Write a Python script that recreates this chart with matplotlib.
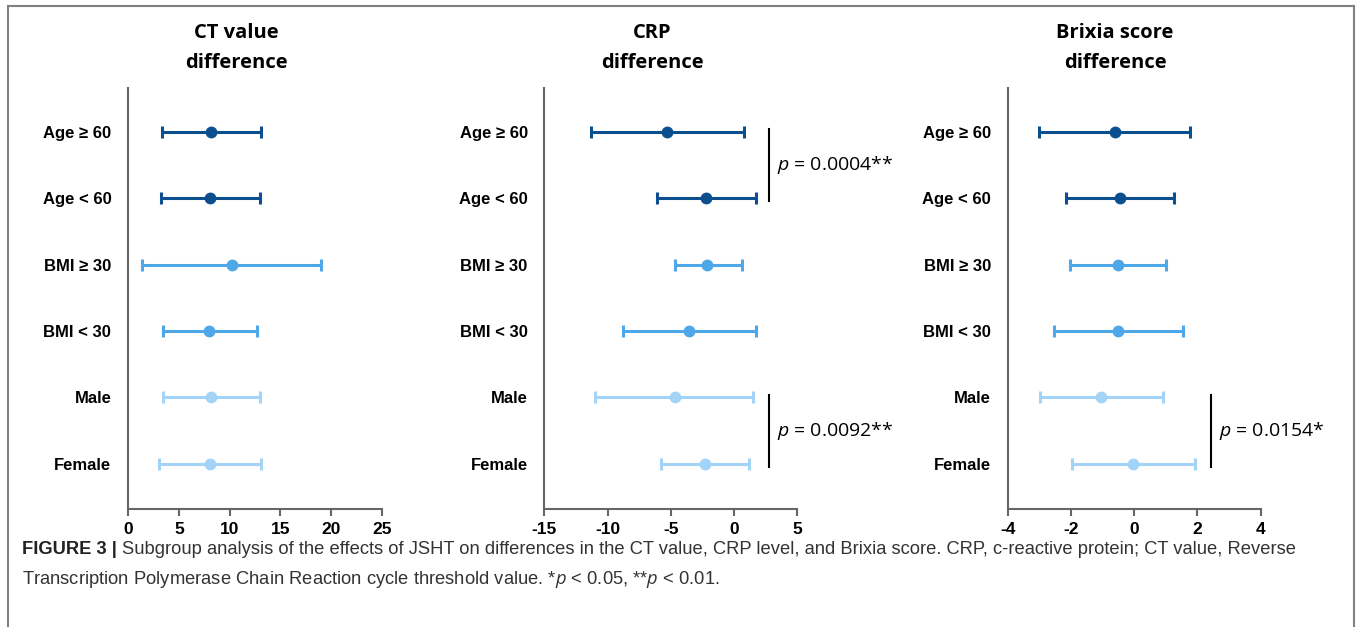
import matplotlib
matplotlib.use("Agg")
import matplotlib.pyplot as plt
from matplotlib.lines import Line2D

groups = ["Age \u2265 60", "Age < 60", "BMI \u2265 30", "BMI < 30", "Male", "Female"]

ct_mean = [8.2, 8.1, 10.2, 8.0, 8.2, 8.1]
ct_low = [3.3, 3.2, 1.35, 3.4, 3.4, 3.1]
ct_high = [13.1, 13.0, 19.0, 12.7, 13.0, 13.1]

crp_mean = [-5.3, -2.2, -2.1, -3.6, -4.7, -2.3]
crp_low = [-11.3, -6.1, -4.7, -8.8, -11.0, -5.8]
crp_high = [0.8, 1.75, 0.6, 1.7, 1.5, 1.2]

brixia_mean = [-0.61, -0.45, -0.51, -0.51, -1.05, -0.03]
brixia_low = [-3.0, -2.15, -2.02, -2.54, -2.98, -1.97]
brixia_high = [1.78, 1.27, 1.02, 1.53, 0.9, 1.93]

titles = ["CT value\ndifference", "CRP\ndifference", "Brixia score\ndifference"]
xticks = [[0, 5, 10, 15, 20, 25], [-15, -10, -5, 0, 5], [-4, -2, 0, 2, 4]]

# significance brackets: panel, first row, last row, x, label
brackets = [
    (1, 0, 1, 2.73, "0.0004**"),
    (1, 4, 5, 2.73, "0.0092**"),
    (2, 4, 5, 2.42, "0.0154*"),
]

colors = ["#0b4f8f", "#0b4f8f", "#4ea7e8", "#4ea7e8", "#a3d3f7", "#a3d3f7"]

plt.rcParams["mathtext.fontset"] = "custom"
plt.rcParams["mathtext.it"] = "Open Sans:italic"
plt.rcParams["mathtext.rm"] = "Open Sans"

W, H = 1357, 627
fig = plt.figure(figsize=(W / 100, H / 100), dpi=100)

axes_px = [(128, 382), (544.3, 797.3), (1007.7, 1260.7)]
top_px, bottom_px = 88, 509
title_x = [236, 652, 1115]

data = [
    (ct_mean, ct_low, ct_high),
    (crp_mean, crp_low, crp_high),
    (brixia_mean, brixia_low, brixia_high),
]

axes = []
for i, ((l, r), (mean, low, high)) in enumerate(zip(axes_px, data)):
    ax = fig.add_axes([l / W, 1 - bottom_px / H, (r - l) / W, (bottom_px - top_px) / H])
    axes.append(ax)
    for row in range(len(groups)):
        m = mean[row]
        ax.errorbar(
            m, row, xerr=[[m - low[row]], [high[row] - m]],
            fmt="o", color=colors[row], ecolor=colors[row],
            elinewidth=2.2, capsize=4.5, capthick=2.2, markersize=7.5,
        )
    ax.set_xlim(xticks[i][0], xticks[i][-1])
    ax.set_ylim(5.68, -0.66)
    ax.set_xticks(xticks[i])
    ax.set_xticklabels([str(t) for t in xticks[i]], fontweight="bold",
                       fontsize=12.5, family="Liberation Sans")
    ax.set_yticks(range(len(groups)))
    ax.set_yticklabels(groups, fontweight="bold", fontsize=12, family="Liberation Sans")
    ax.tick_params(axis="y", length=0, pad=12)
    ax.tick_params(axis="x", length=5, width=1.5, color="#666666", pad=4)
    for side in ("top", "right"):
        ax.spines[side].set_visible(False)
    for side in ("left", "bottom"):
        ax.spines[side].set_color("#666666")
        ax.spines[side].set_linewidth(1.5)
    fig.text(title_x[i] / W, 1 - 48 / H, titles[i], ha="center", va="center",
             fontsize=14.5, fontweight="bold", family="Open Sans", linespacing=1.6)

for panel, r0, r1, x, label in brackets:
    ax = axes[panel]
    ax.plot([x, x], [r0 - 0.04, r1 + 0.04], color="black", lw=1.5, clip_on=False)
    ax.annotate("$p$ = " + label, (x, (r0 + r1) / 2), xytext=(6, 0),
                textcoords="offset points", ha="left", va="center",
                fontsize=14, family="Open Sans", annotation_clip=False)

# frame around the figure panel
frame = "#808080"
fig.add_artist(Line2D([8 / W, 8 / W], [-0.1, 1 - 6 / H], color=frame, lw=1.5))
fig.add_artist(Line2D([8 / W, 1354 / W], [1 - 6 / H, 1 - 6 / H], color=frame, lw=1.5))
fig.add_artist(Line2D([1354 / W, 1354 / W], [-0.1, 1 - 6 / H], color=frame, lw=1.5))

cap_y1 = 1 - 550 / H
cap_y2 = 1 - 579 / H
t = fig.text(22 / W, cap_y1, "FIGURE 3 |", fontweight="bold", fontsize=13.2,
             family="Liberation Sans", va="center", color="#222222")
fig.canvas.draw()
bb = t.get_window_extent()
fig.text((bb.x1 + 5) / W, cap_y1,
         "Subgroup analysis of the effects of JSHT on differences in the CT value, CRP level, "
         "and Brixia score. CRP, c-reactive protein; CT value, Reverse",
         fontsize=13.2, family="Liberation Sans", va="center", color="#333333")
fig.text(22 / W, cap_y2,
         "Transcription Polymerase Chain Reaction cycle threshold value. *$p$ < 0.05, **$p$ < 0.01.",
         fontsize=13.2, family="Liberation Sans", va="center", color="#333333")

fig.savefig("out.png", dpi=100)
